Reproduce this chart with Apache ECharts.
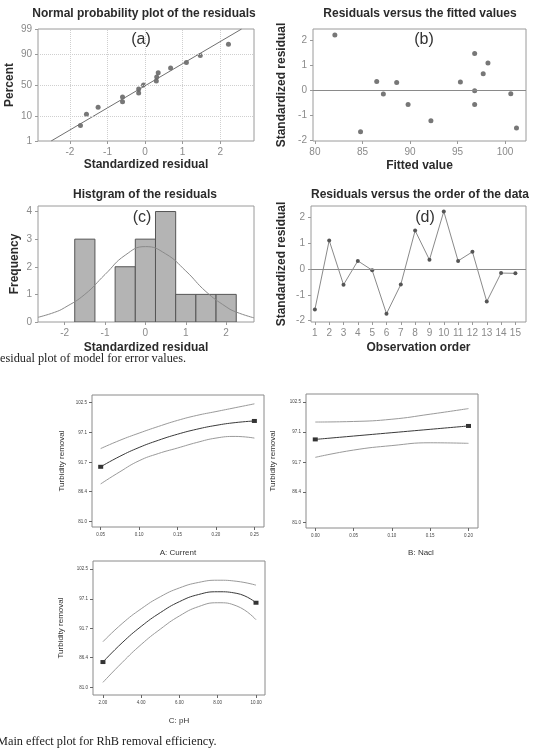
<!DOCTYPE html>
<html>
<head>
<meta charset="utf-8">
<script src="https://cdn.jsdelivr.net/npm/echarts@6/dist/echarts.min.js"></script>
<style>
  html, body { margin: 0; padding: 0; background: #fff; }
  #main { width: 535px; height: 754px; }
</style>
</head>
<body>
<div id="main"></div>
<script>
// (a) normal probability plot
const probResid = [-1.72, -1.56, -1.25, -0.60, -0.60, -0.17, -0.17, -0.04, 0.30, 0.31, 0.35, 0.68, 1.10, 1.47, 2.22]
const probPercent = [4.6, 11.3, 17.9, 24.3, 30.8, 36.9, 43.4, 50.0, 56.5, 63.0, 69.5, 76.0, 82.5, 89.0, 95.5]
const probFitX = [-2.50, 2.57]
const probFitPct = [1, 99]
const probTicks = [1, 10, 50, 90, 99]
const residTicks = [-2, -1, 0, 1, 2]

// (b) residuals vs fitted
const fittedVal = [82.1, 84.8, 86.5, 87.2, 88.6, 89.8, 92.2, 95.3, 96.8, 96.8, 96.8, 97.7, 98.2, 100.6, 101.2]
const fittedResid = [2.19, -1.68, 0.33, -0.17, 0.29, -0.59, -1.24, 0.31, 1.45, -0.04, -0.59, 0.64, 1.07, -0.16, -1.53]
const fittedTicks = [80, 85, 90, 95, 100]

// (c) histogram
const binCenter = [-1.5, -1.0, -0.5, 0, 0.5, 1.0, 1.5, 2.0]
const binFreq = [3, 0, 2, 3, 4, 1, 1, 1]
const binWidth = 0.5
const curveX = [-2.66, -2.25, -2.0, -1.5, -1.0, -0.5, 0, 0.5, 1.0, 1.5, 2.0, 2.25, 2.69]
const curveY = [0.17, 0.35, 0.52, 1.0, 1.72, 2.42, 2.73, 2.47, 1.85, 1.1, 0.55, 0.36, 0.15]
const freqTicks = [0, 1, 2, 3, 4]

// (d) residuals vs order
const orderNo = [1, 2, 3, 4, 5, 6, 7, 8, 9, 10, 11, 12, 13, 14, 15]
const orderResid = [-1.57, 1.10, -0.61, 0.31, -0.05, -1.73, -0.60, 1.48, 0.35, 2.22, 0.31, 0.66, -1.26, -0.16, -0.17]

// main effect plots
const effTicks = [81.0, 86.4, 91.7, 97.1, 102.5]
const curX = [0.05, 0.075, 0.10, 0.125, 0.15, 0.175, 0.20, 0.225, 0.25]
const curMid = [90.9, 92.8, 94.4, 95.7, 96.8, 97.7, 98.4, 98.9, 99.2]
const curUp = [94.2, 95.7, 97.0, 98.2, 99.3, 100.2, 100.9, 101.6, 102.3]
const curLow = [87.8, 90.0, 92.0, 93.3, 94.3, 95.3, 96.1, 96.4, 96.1]
const curTicks = [0.05, 0.10, 0.15, 0.20, 0.25]

const naclX = [0.00, 0.05, 0.10, 0.15, 0.20]
const naclMid = [95.8, 96.4, 97.0, 97.6, 98.2]
const naclUp = [98.9, 99.0, 99.4, 100.3, 101.3]
const naclLow = [92.6, 93.9, 94.7, 95.2, 95.1]

const phX = [2, 3, 4, 5, 6, 7, 8, 9, 10]
const phMid = [85.6, 89.1, 92.1, 94.6, 96.6, 97.9, 98.4, 98.1, 96.4]
const phUp = [89.3, 92.6, 95.3, 97.5, 99.1, 100.1, 100.5, 100.3, 99.6]
const phLow = [81.9, 85.5, 88.8, 91.6, 94.0, 95.7, 96.4, 95.8, 93.3]
const phTicks = [2, 4, 6, 8, 10]

// inverse normal cdf (Acklam) - used for the probability axis
function probit(p) {
  const a = [-39.69683028665376, 220.9460984245205, -275.9285104469687, 138.3577518672690, -30.66479806614716, 2.506628277459239]
  const b = [-54.47609879822406, 161.5858368580409, -155.6989798598866, 66.80131188771972, -13.28068155288572]
  const c = [-0.007784894002430293, -0.3223964580411365, -2.400758277161838, -2.549732539343734, 4.374664141464968, 2.938163982698783]
  const d = [0.007784695709041462, 0.3224671290700398, 2.445134137142996, 3.754408661907416]
  let q, r
  if (p < 0.02425) {
    q = Math.sqrt(-2 * Math.log(p))
    return (((((c[0] * q + c[1]) * q + c[2]) * q + c[3]) * q + c[4]) * q + c[5]) / ((((d[0] * q + d[1]) * q + d[2]) * q + d[3]) * q + 1)
  }
  if (p > 1 - 0.02425) return -probit(1 - p)
  q = p - 0.5
  r = q * q
  return (((((a[0] * r + a[1]) * r + a[2]) * r + a[3]) * r + a[4]) * r + a[5]) * q / (((((b[0] * r + b[1]) * r + b[2]) * r + b[3]) * r + b[4]) * r + 1)
}
const probTickZ = probTicks.map(p => probit(p / 100))

const SANS = '"Liberation Sans", Arial, sans-serif'
const SERIF = '"Liberation Serif", "Times New Roman", serif'

// axis for the four residual plots
function resAxis(grid, min, max, ticks, name, gap, fmt) {
  return {
    type: 'value', gridIndex: grid, min: min, max: max,
    name: name, nameLocation: 'middle', nameGap: gap,
    nameTextStyle: { fontFamily: SANS, fontSize: 12, fontWeight: 'bold', color: '#2b2b2b' },
    axisLine: { show: false, onZero: false },
    axisTick: { show: true, customValues: ticks, length: 3, lineStyle: { color: '#999' } },
    axisLabel: { customValues: ticks, margin: 6, fontFamily: SANS, fontSize: 10, color: '#8a8a8a', formatter: fmt },
    splitLine: { show: false }
  }
}

// axis for the main effect plots
function effAxis(grid, min, max, ticks, name, gap, fmt) {
  return {
    type: 'value', gridIndex: grid, min: min, max: max,
    name: name, nameLocation: 'middle', nameGap: gap,
    nameTextStyle: { fontFamily: SANS, fontSize: 8, color: '#333' },
    axisLine: { show: false, onZero: false },
    axisTick: { show: true, customValues: ticks, length: 3, lineStyle: { color: '#666' } },
    axisLabel: { customValues: ticks, margin: 5, fontFamily: SANS, fontSize: 4.5, color: '#444', formatter: fmt },
    splitLine: { show: false }
  }
}

function effSeries(grid, xs, mid, up, low) {
  const mk = (ys, color) => ({
    type: 'line', xAxisIndex: grid, yAxisIndex: grid, smooth: true, showSymbol: false,
    data: xs.map((x, i) => [x, ys[i]]),
    lineStyle: { color: color, width: 1 }, silent: true
  })
  const n = xs.length - 1
  return [
    mk(up, '#9a9a9a'),
    mk(low, '#9a9a9a'),
    mk(mid, '#3a3a3a'),
    {
      type: 'scatter', xAxisIndex: grid, yAxisIndex: grid, symbol: 'rect', symbolSize: [5, 4],
      itemStyle: { color: '#000' }, data: [[xs[0], mid[0]], [xs[n], mid[n]]]
    }
  ]
}

const zeroLine = {
  silent: true, symbol: 'none', label: { show: false },
  lineStyle: { color: '#8a8a8a', width: 1, type: 'solid' },
  data: [{ yAxis: 0 }]
}

const fix = d => v => v.toFixed(d)
const plain = v => String(Math.round(v))

const myChart = echarts.init(document.getElementById('main'))
const option = {
  animation: false,
  backgroundColor: '#fff',
  grid: [
    { left: 38, top: 29, width: 216, height: 112 },
    { left: 313, top: 29, width: 213, height: 112 },
    { left: 38, top: 206, width: 216, height: 116 },
    { left: 311, top: 206, width: 215, height: 116 },
    { left: 92, top: 395, width: 172, height: 132 },
    { left: 306, top: 394, width: 172, height: 134 },
    { left: 93, top: 561, width: 172, height: 134 }
  ].map((g, i) => Object.assign(g, {
    show: true, borderWidth: 1, borderColor: i < 4 ? '#9a9a9a' : '#8a8a8a', outerBoundsMode: 'none'
  })),
  xAxis: [
    resAxis(0, -2.85, 2.9, residTicks, 'Standardized residual', 18, plain),
    resAxis(1, 79.8, 102.2, fittedTicks, 'Fitted value', 19, plain),
    resAxis(2, -2.66, 2.69, residTicks, 'Standardized residual', 20, plain),
    resAxis(3, 0.73, 15.74, orderNo, 'Observation order', 20, plain),
    effAxis(4, 0.0387, 0.2625, curTicks, 'A: Current', 22, fix(2)),
    effAxis(5, -0.0121, 0.2124, naclX, '', 21, fix(2)),
    effAxis(6, 1.48, 10.47, phTicks, 'C: pH', 22, fix(2))
  ],
  yAxis: [
    resAxis(0, probTickZ[0], probTickZ[4], probTickZ, 'Percent', 22, v => {
      let k = 0
      probTickZ.forEach((z, i) => { if (Math.abs(z - v) < Math.abs(probTickZ[k] - v)) k = i })
      return String(probTicks[k])
    }),
    resAxis(1, -2.05, 2.43, residTicks, 'Standardized residual', 25, plain),
    resAxis(2, 0, 4.2, freqTicks, 'Frequency', 17, plain),
    resAxis(3, -2.05, 2.43, residTicks, 'Standardized residual', 23, plain),
    effAxis(4, 80, 103.9, effTicks, 'Turbidity removal', 26, fix(1)),
    effAxis(5, 80, 103.9, effTicks, 'Turbidity removal', 29, fix(1)),
    effAxis(6, 79.6, 104.0, effTicks, 'Turbidity removal', 28, fix(1))
  ],
  series: [
    // (a)
    {
      type: 'scatter', xAxisIndex: 0, yAxisIndex: 0, symbolSize: 5,
      itemStyle: { color: '#555' },
      data: probResid.map((x, i) => [x, probit(probPercent[i] / 100)]),
      markLine: {
        silent: true, symbol: 'none', label: { show: false },
        lineStyle: { color: '#cfcfcf', width: 1, type: 'dotted' },
        data: residTicks.map(v => ({ xAxis: v })).concat(probTickZ.slice(1, 4).map(v => ({ yAxis: v })))
      }
    },
    {
      type: 'line', xAxisIndex: 0, yAxisIndex: 0, showSymbol: false, silent: true,
      lineStyle: { color: '#707070', width: 1 },
      data: probFitX.map((x, i) => [x, probit(probFitPct[i] / 100)])
    },
    // (b)
    {
      type: 'scatter', xAxisIndex: 1, yAxisIndex: 1, symbolSize: 5,
      itemStyle: { color: '#555' },
      data: fittedVal.map((x, i) => [x, fittedResid[i]]),
      markLine: zeroLine
    },
    // (c)
    {
      type: 'custom', xAxisIndex: 2, yAxisIndex: 2, clip: true,
      data: binCenter.map((c, i) => [c, binFreq[i]]),
      encode: { x: 0, y: 1 },
      renderItem: function (params, api) {
        const c = api.value(0)
        const f = api.value(1)
        if (!f) return null
        const p0 = api.coord([c - binWidth / 2, f])
        const p1 = api.coord([c + binWidth / 2, 0])
        return {
          type: 'rect',
          shape: { x: p0[0], y: p0[1], width: p1[0] - p0[0], height: p1[1] - p0[1] },
          style: { fill: '#b4b4b4', stroke: '#555', lineWidth: 1 }
        }
      }
    },
    {
      type: 'line', xAxisIndex: 2, yAxisIndex: 2, smooth: true, showSymbol: false, silent: true,
      lineStyle: { color: '#8a8a8a', width: 1 },
      data: curveX.map((x, i) => [x, curveY[i]])
    },
    // (d)
    {
      type: 'line', xAxisIndex: 3, yAxisIndex: 3, symbol: 'circle', symbolSize: 4,
      itemStyle: { color: '#555' },
      lineStyle: { color: '#8a8a8a', width: 1 },
      data: orderNo.map((x, i) => [x, orderResid[i]]),
      markLine: zeroLine
    }
  ].concat(
    effSeries(4, curX, curMid, curUp, curLow),
    effSeries(5, naclX, naclMid, naclUp, naclLow),
    effSeries(6, phX, phMid, phUp, phLow)
  ),
  graphic: [
    ['Normal probability plot of the residuals', 144, 14],
    ['Residuals versus the fitted values', 420, 14],
    ['Histgram of the residuals', 145, 195],
    ['Residuals versus the order of the data', 420, 195]
  ].map(t => ({
    type: 'text', x: t[1], y: t[2], silent: true,
    style: { text: t[0], font: 'bold 12px ' + SANS, fill: '#2b2b2b', align: 'center', verticalAlign: 'middle' }
  })).concat([
    ['(a)', 141, 40], ['(b)', 424, 40], ['(c)', 142, 218], ['(d)', 425, 218]
  ].map(t => ({
    type: 'text', x: t[1], y: t[2], silent: true,
    style: { text: t[0], font: '16px ' + SANS, fill: '#333', align: 'center', verticalAlign: 'middle' }
  }))).concat([
    ['esidual plot of model for error values.', 0, 359],
    ['Main effect plot for RhB removal efficiency.', -3, 742]
  ].map(t => ({
    type: 'text', x: t[1], y: t[2], silent: true,
    style: { text: t[0], font: '12.3px ' + SERIF, fill: '#222', align: 'left', verticalAlign: 'middle' }
  }))).concat([{
    // x-axis title of the Nacl panel sits right of the panel centre
    type: 'text', x: 421, y: 553, silent: true,
    style: { text: 'B: Nacl', font: '8px ' + SANS, fill: '#333', align: 'center', verticalAlign: 'middle' }
  }])
}
myChart.setOption(option)
</script>
</body>
</html>
